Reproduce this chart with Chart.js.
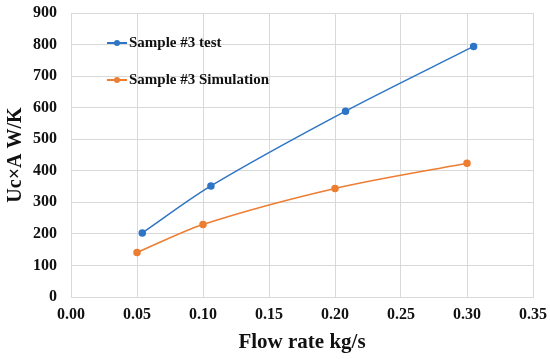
<!DOCTYPE html>
<html>
<head>
<meta charset="utf-8">
<script src="https://cdn.jsdelivr.net/npm/chart.js@4"></script>
<style>
  body { margin: 0; background: #fff; }
  #wrap { position: relative; width: 550px; height: 359px; }
  .leg { position: absolute; left: 107px; font: bold 15px "Liberation Serif", serif; color: #111; display: flex; align-items: center; }
  .leg i { display: inline-block; position: relative; width: 20px; height: 2px; margin-right: 2px; }
  .leg i b { position: absolute; left: 7px; top: -2px; width: 6px; height: 6px; border-radius: 3px; }
</style>
</head>
<body>
<div id="wrap">
  <canvas id="myChart" width="550" height="359"></canvas>
  <div class="leg" style="top:34px"><i style="background:#2f75c5"><b style="background:#2f75c5"></b></i>Sample #3 test</div>
  <div class="leg" style="top:71px"><i style="background:#ed7d31"><b style="background:#ed7d31"></b></i>Sample #3 Simulation</div>
</div>
<script>
// values
let testFlow = [0.054, 0.106, 0.208, 0.305];
let testUA = [203, 352, 589, 794];
let simFlow = [0.050, 0.100, 0.200, 0.300];
let simUA = [141, 230, 344, 424];

let seriesNames = ['Sample #3 test', 'Sample #3 Simulation'];
let xTitle = 'Flow rate kg/s';
let yTitle = 'Uc\u00d7A W/K';

function pts(xs, ys) {
  return xs.map(function (x, i) { return { x: x, y: ys[i] } })
}

const ctx = document.getElementById('myChart');
const tickFont = { family: 'Liberation Serif', size: 16, weight: 'bold' };

let chart = new Chart(ctx, {
  type: 'scatter',
  data: {
    datasets: [
      {
        label: seriesNames[0],
        data: pts(testFlow, testUA),
        showLine: true,
        borderColor: '#2f75c5',
        backgroundColor: '#2f75c5',
        borderWidth: 1.5,
        pointRadius: 3,
        tension: 0.3
      },
      {
        label: seriesNames[1],
        data: pts(simFlow, simUA),
        showLine: true,
        borderColor: '#ed7d31',
        backgroundColor: '#ed7d31',
        borderWidth: 1.5,
        pointRadius: 3,
        tension: 0.3
      }
    ]
  },
  options: {
    responsive: false,
    animation: false,
    layout: { padding: { top: 13, right: 17, left: 0, bottom: 0 } },
    plugins: {
      legend: { display: false },
      tooltip: { enabled: false }
    },
    scales: {
      x: {
        min: 0, max: 0.35,
        ticks: {
          stepSize: 0.05,
          color: '#111',
          font: tickFont,
          padding: 8,
          callback: function (v) { return v.toFixed(2) }
        },
        grid: { color: '#d9d9d9', drawTicks: false },
        border: { color: '#d9d9d9' },
        title: {
          display: true, text: xTitle, color: '#111',
          font: { family: 'Liberation Serif', size: 21, weight: 'bold' },
          padding: { top: 7 }
        },
        afterFit: function (s) {
          s.height = 62
          s.paddingLeft = 0
          s.paddingRight = 0
        }
      },
      y: {
        min: 0, max: 900,
        ticks: { stepSize: 100, color: '#111', font: tickFont, padding: 14 },
        grid: { color: '#d9d9d9', drawTicks: false },
        border: { display: false },
        title: {
          display: true, text: yTitle, color: '#111',
          font: { family: 'Liberation Serif', size: 20, weight: 'bold' },
          padding: { bottom: 0 }
        },
        afterFit: function (s) {
          s.width = 71
          s.paddingTop = 0
          s.paddingBottom = 0
        }
      }
    }
  }
});
</script>
</body>
</html>
